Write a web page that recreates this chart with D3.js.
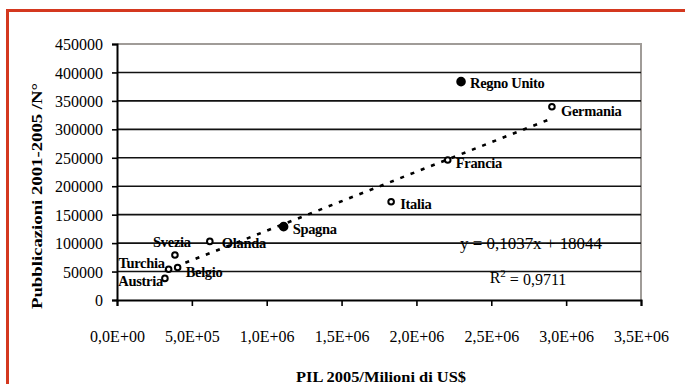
<!DOCTYPE html>
<html>
<head>
<meta charset="utf-8">
<script src="https://cdn.jsdelivr.net/npm/d3@7"></script>
<style>
  html, body { margin: 0; padding: 0; background: #fff; }
  svg { display: block; }
  text { font-family: "Liberation Serif", "Times New Roman", serif; fill: #000; }
</style>
</head>
<body>
<svg id="chart" width="685" height="384"></svg>
<script>
// Countries, GDP 2005 (millions of US$) and publications 2001-2005
const countries = ["Regno Unito", "Germania", "Francia", "Italia", "Spagna", "Olanda", "Svezia", "Turchia", "Belgio", "Austria"];
const gdp = [2298000, 2905000, 2209000, 1831000, 1113000, 620000, 387000, 345000, 405000, 320000];
const pubs = [383800, 339800, 246100, 172800, 128900, 103000, 79000, 54000, 57000, 38000];

// Linear trend reported on the chart
const trendSlope = 0.1037;
const trendIntercept = 18044;
const trendLabel = "y = 0,1037x + 18044";
const r2Label = "0,9711";

const xTicks = [0, 500000, 1000000, 1500000, 2000000, 2500000, 3000000, 3500000];
const yTicks = [0, 50000, 100000, 150000, 200000, 250000, 300000, 350000, 400000, 450000];

const xTitle = "PIL 2005/Milioni di US$";
const yTitle = "Pubblicazioni 2001-2005 /N°";

// Marker kind and label placement per country
const filledMarkers = new Set(["Regno Unito", "Spagna"]);
const labelPlacement = {
  "Regno Unito": { dx: 9, dy: 1, anchor: "start" },
  "Germania":    { dx: 9, dy: 4, anchor: "start" },
  "Francia":     { dx: 8, dy: 3, anchor: "start" },
  "Italia":      { dx: 9, dy: 2, anchor: "start" },
  "Spagna":      { dx: 9, dy: 2, anchor: "start" },
  "Olanda":      { dx: 12, dy: 2, anchor: "start" },
  "Svezia":      { dx: -3, dy: -13, anchor: "middle" },
  "Turchia":     { dx: -4, dy: -6, anchor: "end" },
  "Belgio":      { dx: 8, dy: 4, anchor: "start" },
  "Austria":     { dx: -2, dy: 3, anchor: "end" }
};

const svg = d3.select("#chart");
const W = 685, H = 384;
const plot = { left: 117, right: 641, top: 44, bottom: 300 };

svg.append("rect").attr("width", W).attr("height", H).attr("fill", "#fff");

// outer red frame
svg.append("rect")
  .attr("x", 7.5).attr("y", 10.5)
  .attr("width", 700).attr("height", 400)
  .attr("fill", "none").attr("stroke", "#d4381f").attr("stroke-width", 3);

const x = d3.scaleLinear().domain([0, 3500000]).range([plot.left, plot.right]);
const y = d3.scaleLinear().domain([0, 450000]).range([plot.bottom, plot.top]);

// plot-area border (top and right, grey)
svg.append("path")
  .attr("d", `M${plot.left},${plot.top}H${plot.right}V${plot.bottom}`)
  .attr("fill", "none").attr("stroke", "#a09c98").attr("stroke-width", 2);

// horizontal gridlines
svg.append("g")
  .selectAll("line")
  .data(yTicks.filter(v => v > 0 && v < 450000))
  .join("line")
  .attr("x1", plot.left).attr("x2", plot.right)
  .attr("y1", d => y(d)).attr("y2", d => y(d))
  .attr("stroke", "#111").attr("stroke-width", 1.6);

const fmtX = v => {
  const [m, e] = v.toExponential(1).split("e");
  const sign = e[0] === "-" ? "-" : "+";
  const ex = String(Math.abs(+e)).padStart(2, "0");
  return m.replace(".", ",") + "E" + sign + ex;
};

// y axis
const yAxis = svg.append("g")
  .attr("transform", `translate(${plot.left},0)`)
  .call(d3.axisLeft(y).tickValues(yTicks).tickFormat(d => String(d)).tickSize(5).tickPadding(9));
yAxis.select(".domain").attr("stroke", "#000").attr("stroke-width", 2);
yAxis.selectAll(".tick line").attr("stroke", "#000").attr("stroke-width", 1.6);
yAxis.selectAll(".tick text")
  .style("font-family", '"Liberation Serif", serif')
  .style("font-size", "16px").attr("fill", "#111").attr("dy", "0.35em");

// x axis
const xAxis = svg.append("g")
  .attr("transform", `translate(0,${plot.bottom})`)
  .call(d3.axisBottom(x).tickValues(xTicks).tickFormat(fmtX).tickSize(6).tickPadding(25));
xAxis.select(".domain").attr("stroke", "#000").attr("stroke-width", 2);
xAxis.selectAll(".tick line").attr("stroke", "#000").attr("stroke-width", 1.6);
xAxis.selectAll(".tick text")
  .style("font-family", '"Liberation Serif", serif')
  .style("font-size", "16px").attr("fill", "#111");

// trend line across the data range
const xMin = d3.min(gdp), xMax = d3.max(gdp);
svg.append("line")
  .attr("x1", x(xMin)).attr("y1", y(trendSlope * xMin + trendIntercept))
  .attr("x2", x(xMax)).attr("y2", y(trendSlope * xMax + trendIntercept))
  .attr("stroke", "#000").attr("stroke-width", 2.6)
  .attr("stroke-dasharray", "4,7");

// points
const pts = countries.map((c, i) => ({ name: c, gx: gdp[i], py: pubs[i] }));
svg.append("g")
  .selectAll("circle")
  .data(pts)
  .join("circle")
  .attr("cx", d => x(d.gx)).attr("cy", d => y(d.py))
  .attr("r", d => filledMarkers.has(d.name) ? 3.8 : 2.8)
  .attr("fill", d => filledMarkers.has(d.name) ? "#000" : "#fff")
  .attr("stroke", "#000").attr("stroke-width", 2);

// point labels
svg.append("g")
  .selectAll("text")
  .data(pts)
  .join("text")
  .attr("x", d => x(d.gx) + labelPlacement[d.name].dx)
  .attr("y", d => y(d.py) + labelPlacement[d.name].dy)
  .attr("dy", "0.35em")
  .attr("text-anchor", d => labelPlacement[d.name].anchor)
  .style("font-size", "14.5px").style("font-weight", "bold")
  .style("letter-spacing", "-0.3px")
  .text(d => d.name);

// equation and R²
svg.append("text")
  .attr("x", 531).attr("y", 243).attr("dy", "0.35em")
  .attr("text-anchor", "middle")
  .style("font-size", "16px")
  .attr("textLength", 142).attr("lengthAdjust", "spacingAndGlyphs")
  .text(trendLabel);

const r2 = svg.append("text")
  .attr("x", 528).attr("y", 277).attr("dy", "0.35em")
  .attr("text-anchor", "middle")
  .style("font-size", "16px");
r2.append("tspan").text("R");
r2.append("tspan").attr("dy", "-0.55em").style("font-size", "11px").text("2");
r2.append("tspan").attr("dy", "0.55em").text(" = " + r2Label);

// axis titles
svg.append("text")
  .attr("x", 381).attr("y", 377).attr("dy", "0.35em")
  .attr("text-anchor", "middle")
  .style("font-size", "15px").style("font-weight", "bold")
  .attr("textLength", 170).attr("lengthAdjust", "spacingAndGlyphs")
  .text(xTitle);

svg.append("text")
  .attr("transform", "translate(37,196) rotate(-90)")
  .attr("dy", "0.35em")
  .attr("text-anchor", "middle")
  .style("font-size", "15px").style("font-weight", "bold")
  .attr("textLength", 226).attr("lengthAdjust", "spacingAndGlyphs")
  .text(yTitle);
</script>
</body>
</html>
